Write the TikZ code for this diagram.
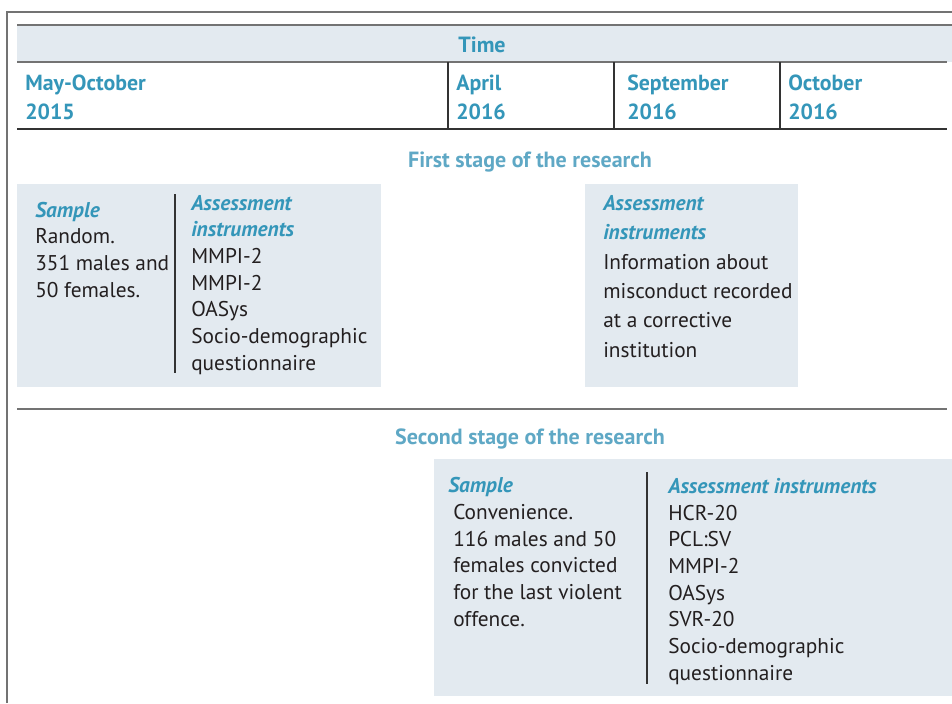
\documentclass[tikz,border=0pt]{standalone}
\usepackage{fontspec}
\setmainfont{PT Sans}
\usetikzlibrary{positioning}
\definecolor{headblue}{RGB}{52,150,185}
\definecolor{stageblue}{RGB}{95,168,197}
\definecolor{boxfill}{RGB}{227,234,240}
\definecolor{bodytext}{RGB}{35,31,32}
\tikzset{
  grayrule/.style={draw=black!55, line width=1.2pt},
  darkrule/.style={draw=black!80, line width=1pt},
  % multi-line nodes sit on the baseline of their last line
  datelbl/.style={anchor=base west, inner sep=0pt, align=left, text=headblue,
    font=\fontsize{16.4}{21.75}\selectfont\bfseries},
  stagelbl/.style={anchor=base, inner sep=0pt, text=stageblue,
    font=\fontsize{16.5}{20}\selectfont\bfseries},
  boxtext/.style={anchor=base west, inner sep=0pt, align=left, text=bodytext,
    font=\fontsize{16}{20}\selectfont},
}
\newcommand{\hd}[1]{{\color{headblue}\bfseries\itshape #1}}
\newcommand{\ind}{\hspace{3.75pt}}

\begin{document}
\begin{tikzpicture}[x=0.75pt,y=-0.75pt]
  \useasboundingbox (0,0) rectangle (952,703);

  % frame and time header
  \draw[grayrule] (7,703) -- (7,12) -- (952,12);
  \fill[boxfill] (17,25) rectangle (952,62);
  \draw[grayrule] (17,25) -- (952,25);
  \draw[grayrule] (17,62) -- (947,62);
  \draw[darkrule] (17,129) -- (947,129);
  \foreach \x in {448,614,780}
    \draw[darkrule] (\x,62) -- (\x,129);

  \node[stagelbl, text=headblue] (time) at (482,52) {Time};
  \node[datelbl] (may) at (25,119) {May-October\\2015};
  \node[datelbl] (april) at (456,119) {April\\2016};
  \node[datelbl] (sept) at (627,119) {September\\2016};
  \node[datelbl] (oct) at (788,119) {October\\2016};

  % first stage
  \node[stagelbl] (stage1) at (530,167) {First stage of the research};
  \fill[boxfill] (17,184) rectangle (381,387);
  \fill[boxfill] (585,184) rectangle (798,387);
  \draw[darkrule] (175,194) -- (175,373);
  \node[boxtext] (sample1) at (35,297)
    {\hd{Sample}\\Random.\\351 males and\\50 females.};
  \node[boxtext] (instr1) at (191,370)
    {\hd{Assessment}\\\hd{instruments}\\MMPI-2\\MMPI-2\\OASys\\Socio-demographic\\questionnaire};
  \node[boxtext, font=\fontsize{16}{22}\selectfont] (instr2) at (603,357)
    {\hd{Assessment}\\\hd{instruments}\\Information about\\misconduct recorded\\at a corrective\\institution};

  \draw[grayrule] (17,409) -- (947,409);

  % second stage
  \node[stagelbl] (stage2) at (530,444) {Second stage of the research};
  \fill[boxfill] (434,459) rectangle (952,696);
  \draw[darkrule] (647,472) -- (647,684);
  \node[boxtext] (sample2) at (448,626)
    {\hd{Sample}\\\ind Convenience.\\\ind 116 males and 50\\\ind females convicted\\\ind for the last violent\\\ind offence.};
  \node[boxtext] (instr3) at (668,680)
    {\hd{Assessment instruments}\\HCR-20\\PCL:SV\\MMPI-2\\OASys\\SVR-20\\Socio-demographic\\questionnaire};
\end{tikzpicture}
\end{document}
